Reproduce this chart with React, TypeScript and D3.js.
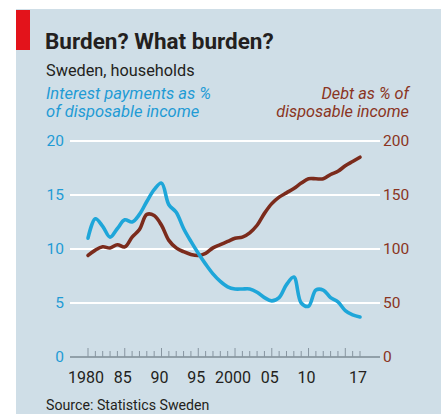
import React from 'react';
import * as d3 from 'd3';

const years = [1980, 1981, 1982, 1983, 1984, 1985, 1986, 1987, 1988, 1989,
  1990, 1991, 1992, 1993, 1994, 1995, 1996, 1997, 1998, 1999,
  2000, 2001, 2002, 2003, 2004, 2005, 2006, 2007, 2008, 2009,
  2010, 2011, 2012, 2013, 2014, 2015, 2016, 2017];

const interestPct = [11.0, 12.8, 12.1, 11.1, 11.9, 12.7, 12.5, 13.2, 14.4, 15.5,
  16.1, 14.1, 13.4, 11.9, 10.7, 9.6, 8.6, 7.7, 7.0, 6.5,
  6.3, 6.3, 6.3, 6.0, 5.5, 5.2, 5.5, 6.7, 7.4, 5.0,
  4.7, 6.2, 6.2, 5.5, 5.1, 4.3, 3.9, 3.7];

const debtPct = [94, 99, 102, 101, 104, 102, 111, 118, 132, 131,
  122, 108, 101, 97.5, 95, 94, 96, 101, 104, 107,
  110, 111, 115, 122, 133, 142, 148, 152, 156, 161,
  165, 165, 165, 169, 172, 177, 181, 185];

const leftTicks = [0, 5, 10, 15, 20];
const rightTicks = [0, 50, 100, 150, 200];
const xLabelYears = [1980, 1985, 1990, 1995, 2000, 2005, 2010, 2017];
const xLabelText = ['1980', '85', '90', '95', '2000', '05', '10', '17'];

const title = 'Burden? What burden?';
const subtitle = 'Sweden, households';
const leftLegend = ['Interest payments as %', 'of disposable income'];
const rightLegend = ['Debt as % of', 'disposable income'];
const source = 'Source: Statistics Sweden';

const BG = '#cfdee7';
const BLUE = '#1ea6d9';
const BLUE_TXT = '#1f9bd5';
const BROWN = '#7b2b1c';
const BROWN_TXT = '#8a3422';
const FONT = 'Roboto, "Open Sans", sans-serif';

export default function App() {
  const W = 445, H = 414;
  const x = d3.scaleLinear().domain([1980, 2017]).range([88, 360]);
  const yL = d3.scaleLinear().domain([0, 20]).range([357, 141]);
  const yR = d3.scaleLinear().domain([0, 200]).range([357, 141]);
  const gridX0 = 70, gridX1 = 380;

  const blueLine = d3.line<number>()
    .x((_, i) => x(years[i]))
    .y((d) => yL(d))
    .curve(d3.curveCatmullRom.alpha(0.5))(interestPct) || '';
  const brownLine = d3.line<number>()
    .x((_, i) => x(years[i]))
    .y((d) => yR(d))
    .curve(d3.curveCatmullRom.alpha(0.5))(debtPct) || '';

  return (
    <svg width={W} height={H} style={{ position: 'absolute', left: 0, top: 0, fontFamily: FONT }}>
      <rect x={0} y={0} width={W} height={H} fill="#ffffff" />
      <rect x={16} y={9} width={425} height={H - 9} fill={BG} />
      <rect x={16} y={10} width={14} height={40} fill="#e3131b" />
      <text x={45} y={49} fontSize={22.5} fontWeight={700} fill="#231f20">{title}</text>
      <text x={46} y={76} fontSize={16.3} fill="#231f20">{subtitle}</text>
      {leftLegend.map((t, i) => (
        <text key={t} x={46} y={99 + i * 18} fontSize={16.5} fontStyle="italic" fill={BLUE_TXT}>{t}</text>
      ))}
      {rightLegend.map((t, i) => (
        <text key={t} x={409} y={99 + i * 18} fontSize={16.3} fontStyle="italic" fill={BROWN_TXT} textAnchor="end">{t}</text>
      ))}

      {leftTicks.filter((t) => t > 0).map((t) => (
        <line key={'g' + t} x1={gridX0} x2={gridX1} y1={yL(t)} y2={yL(t)} stroke="#ffffff" strokeWidth={2} />
      ))}
      {leftTicks.map((t) => (
        <text key={'l' + t} x={64} y={yL(t)} dy="0.35em" fontSize={15.5} fill={BLUE_TXT} textAnchor="end">{t}</text>
      ))}
      {rightTicks.map((t) => (
        <text key={'r' + t} x={383} y={yR(t)} dy="0.35em" fontSize={15.5} fill={BROWN_TXT}>{t}</text>
      ))}

      <line x1={gridX0} x2={gridX1} y1={yL(0)} y2={yL(0)} stroke="#7d8b94" strokeWidth={1.5} />
      {years.map((yr) => (
        <line key={'t' + yr} x1={x(yr)} x2={x(yr)} y1={yL(0)} y2={yL(0) - (yr % 5 === 0 ? 9 : 6)} stroke="#8795a0" strokeWidth={1} />
      ))}
      {xLabelYears.map((yr, i) => (
        <text key={'x' + yr} x={x(yr) - 2} y={383} fontSize={16} fill="#231f20" textAnchor="middle">{xLabelText[i]}</text>
      ))}

      <path d={brownLine} fill="none" stroke={BROWN} strokeWidth={3.6} strokeLinejoin="round" strokeLinecap="round" />
      <path d={blueLine} fill="none" stroke={BLUE} strokeWidth={3.6} strokeLinejoin="round" strokeLinecap="round" />

      <text x={46} y={410} fontSize={14.2} fill="#231f20">{source}</text>
    </svg>
  );
}
